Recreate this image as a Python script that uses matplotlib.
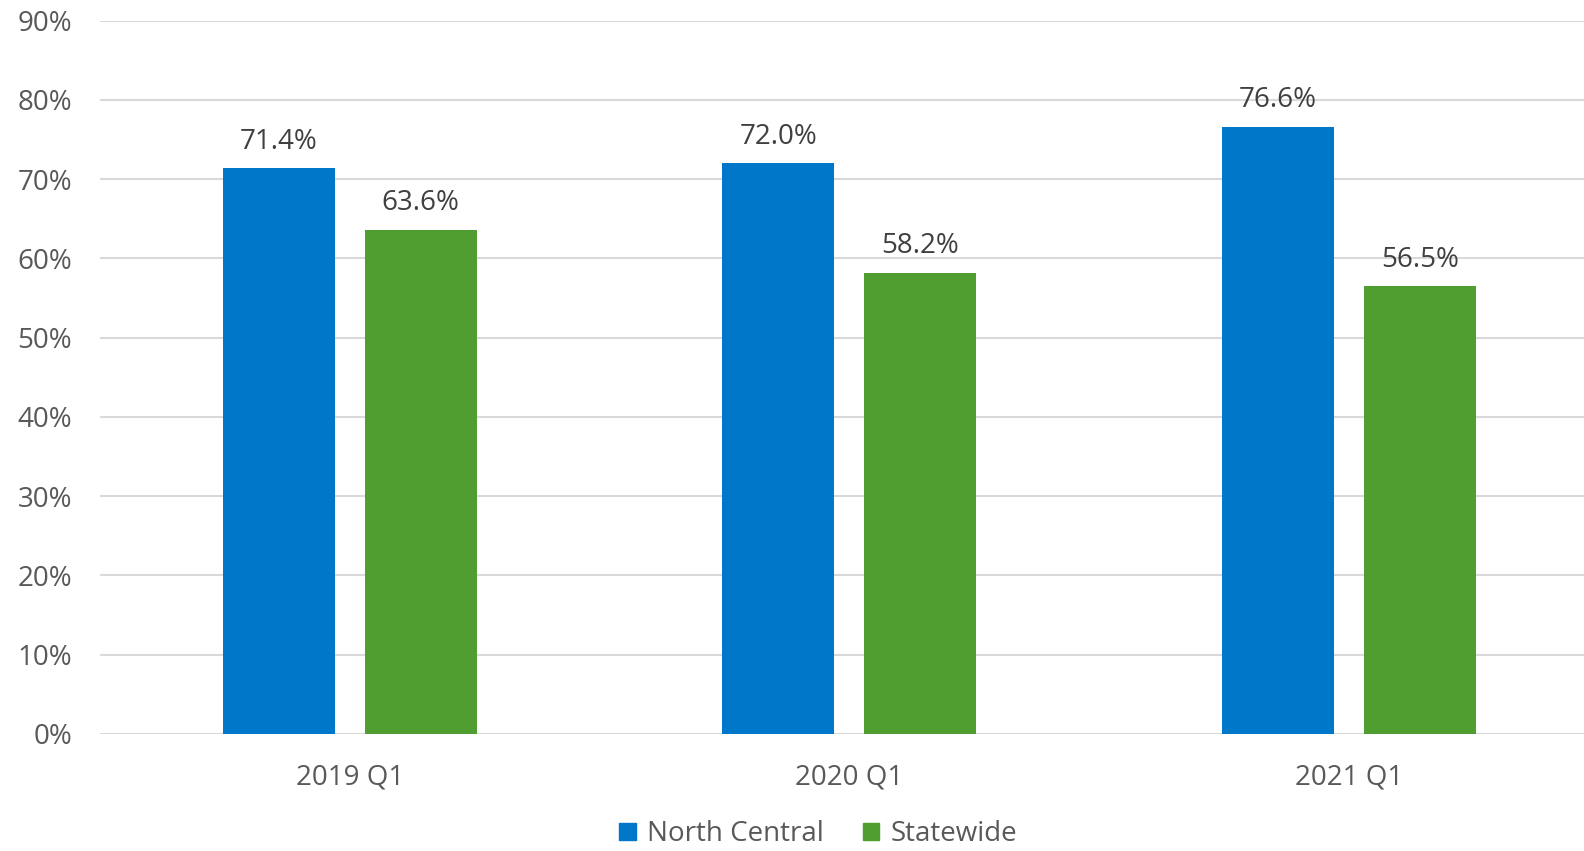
import matplotlib.pyplot as plt
from matplotlib.patches import Patch
import numpy as np

categories = ['2019 Q1', '2020 Q1', '2021 Q1']
north_central = [71.4, 72.0, 76.6]
statewide = [63.6, 58.2, 56.5]
series_names = ['North Central', 'Statewide']
colors = ['#0077C8', '#509E2F']

plt.rcParams['font.family'] = ['Open Sans', 'DejaVu Sans']

fig = plt.figure(figsize=(15.84, 8.51), dpi=100)
ax = fig.add_axes([100/1584, 117/851, 1484/1584, (830.3-117)/851])

x = np.arange(len(categories))
w = 0.224
off = 0.142
b1 = ax.bar(x - off, north_central, w, color=colors[0], zorder=3)
b2 = ax.bar(x + off, statewide, w, color=colors[1], zorder=3)

for bars, vals in ((b1, north_central), (b2, statewide)):
    for r, v in zip(bars, vals):
        ax.annotate('%.1f%%' % v, (r.get_x() + r.get_width()/2, v),
                    xytext=(0, 9), textcoords='offset points',
                    ha='center', va='bottom', fontsize=20, color='#404040')

ax.set_xlim(-0.5, -0.5 + 1484/499.5)
ax.set_ylim(0, 90)
ax.set_yticks(np.arange(0, 91, 10))
ax.set_yticklabels(['%d%%' % t for t in range(0, 91, 10)])
ax.set_xticks(x)
ax.set_xticklabels(categories)
ax.tick_params(axis='both', length=0, labelsize=20, colors='#595959')
ax.tick_params(axis='x', pad=21)
ax.tick_params(axis='y', pad=20)
ax.grid(axis='y', color='#D9D9D9', linewidth=1.5, zorder=0)
for s in ax.spines.values():
    s.set_visible(False)

handles = [Patch(color=c, label=n) for c, n in zip(colors, series_names)]
fig.legend(handles=handles, loc='lower center', bbox_to_anchor=(818/1584, 0),
           ncol=2, frameon=False, fontsize=20, labelcolor='#595959',
           handlelength=0.6, handleheight=0.6, handletextpad=0.4, columnspacing=1.4,
           borderpad=0.0, borderaxespad=0.1)

plt.savefig('out.png', dpi=100)
